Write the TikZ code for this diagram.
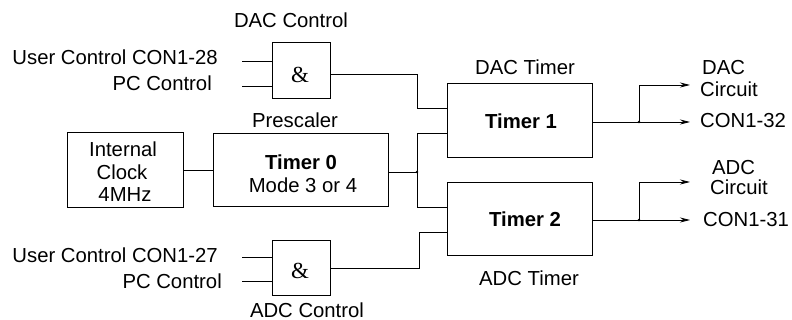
\documentclass[tikz,border=0pt]{standalone}
\usepackage{fontspec}
\setmainfont{Liberation Sans}
\newfontfamily\ampfont{Liberation Serif}
\usetikzlibrary{arrows.meta}
\begin{document}
\begin{tikzpicture}[x=1pt,y=-1pt,
  every node/.style={font=\fontsize{20.3}{23}\selectfont, inner sep=0pt},
  box/.style={draw, line width=1pt, rectangle},
  wire/.style={line width=0.9pt},
  arr/.style={wire, -{Stealth[length=10pt,width=5pt]}},
  amp/.style={font=\ampfont\fontsize{23}{23}\selectfont},
  bold/.style={font=\fontsize{20.3}{23}\selectfont\bfseries},
  jdot/.style={circle, fill, inner sep=0pt, minimum size=2.6pt}]
\useasboundingbox (0,0) rectangle (792,320);

% boxes
\node[box, minimum width=58pt, minimum height=56pt] (dacg) at (301,71) {};
\node[box, minimum width=58pt, minimum height=54pt] (adcg) at (301,268) {};
\node[box, minimum width=116pt, minimum height=75pt] (clk) at (125,170.5) {};
\node[box, minimum width=175pt, minimum height=73pt] (t0) at (300.5,170.5) {};
\node[box, minimum width=145pt, minimum height=74pt] (t1) at (519.5,121) {};
\node[box, minimum width=145pt, minimum height=73pt] (t2) at (519.5,219.5) {};

% texts
\node[anchor=base] (dacctl) at (291,28) {DAC Control};
\node[anchor=base east] (u28) at (218,65) {User Control CON1-28};
\node[anchor=base east] (pc1) at (212,91) {PC Control};
\node[amp] (amp1) at (300,75) {\&};
\node[anchor=base] (dact) at (525,75) {DAC Timer};
\node[anchor=base, bold] (t1txt) at (521,129) {Timer 1};
\node[anchor=base] (presc) at (295,128) {Prescaler};
\node[anchor=base] (int1) at (123,157) {Internal};
\node[anchor=base] (int2) at (122,180) {Clock};
\node[anchor=base] (int3) at (125,202) {4MHz};
\node[anchor=base, bold] (t0txt) at (301,170) {Timer 0};
\node[anchor=base] (mode) at (303,193) {Mode 3 or 4};
\node[anchor=base west] (dacc1) at (702,75) {DAC};
\node[anchor=base west] (dacc2) at (700,97) {Circuit};
\node[anchor=base west] (con32) at (700,128) {CON1-32};
\node[anchor=base west] (adcc1) at (712,175) {ADC};
\node[anchor=base west] (adcc2) at (710,195) {Circuit};
\node[anchor=base west] (con31) at (703,227) {CON1-31};
\node[anchor=base, bold] (t2txt) at (525,227) {Timer 2};
\node[anchor=base] (adct) at (529,286) {ADC Timer};
\node[anchor=base east] (u27) at (218,263) {User Control CON1-27};
\node[anchor=base east] (pc2) at (222,288) {PC Control};
\node[amp] (amp2) at (300,271) {\&};
\node[anchor=base] (adcctl) at (307,317) {ADC Control};

% helper coordinates
\coordinate (i1) at (242,61);
\coordinate (i2) at (242,86);
\coordinate (i3) at (242,257);
\coordinate (i4) at (242,281);
\coordinate (k1) at (417,74);
\coordinate (k1b) at (417,108);
\coordinate (j0) at (417,172);
\coordinate (j0a) at (417,133);
\coordinate (j0b) at (417,207);
\coordinate (k2) at (419,268);
\coordinate (k2b) at (419,232);
\coordinate (b1) at (639,122);
\coordinate (e1) at (690,122);
\coordinate (e1u) at (690,85);
\coordinate (b2) at (639,220);
\coordinate (e2) at (690,220);
\coordinate (e2u) at (690,182);

% wires
\draw[wire] (i1) -- (i1 -| dacg.west);
\draw[wire] (i2) -- (i2 -| dacg.west);
\draw[wire] (i3) -- (i3 -| adcg.west);
\draw[wire] (i4) -- (i4 -| adcg.west);
\draw[wire] (k1 -| dacg.east) -- (k1) -- (k1b) -- (k1b -| t1.west);
\draw[wire] (clk.east) -- (t0.west);
\draw[wire] (t0.east |- j0) -- (j0);
\draw[wire] (j0a -| t1.west) -- (j0a) -- (j0b) -- (j0b -| t2.west);
\draw[wire] (adcg.east) -- (k2) -- (k2b) -- (k2b -| t2.west);
\draw[arr] (t1.east |- b1) -- (e1);
\draw[arr] (b1) |- (e1u);
\draw[arr] (t2.east |- b2) -- (e2);
\draw[arr] (b2) |- (e2u);
\node[jdot] (d0) at (j0) {};
\node[jdot] (d1) at (b1) {};
\node[jdot] (d2) at (b2) {};
\end{tikzpicture}
\end{document}
